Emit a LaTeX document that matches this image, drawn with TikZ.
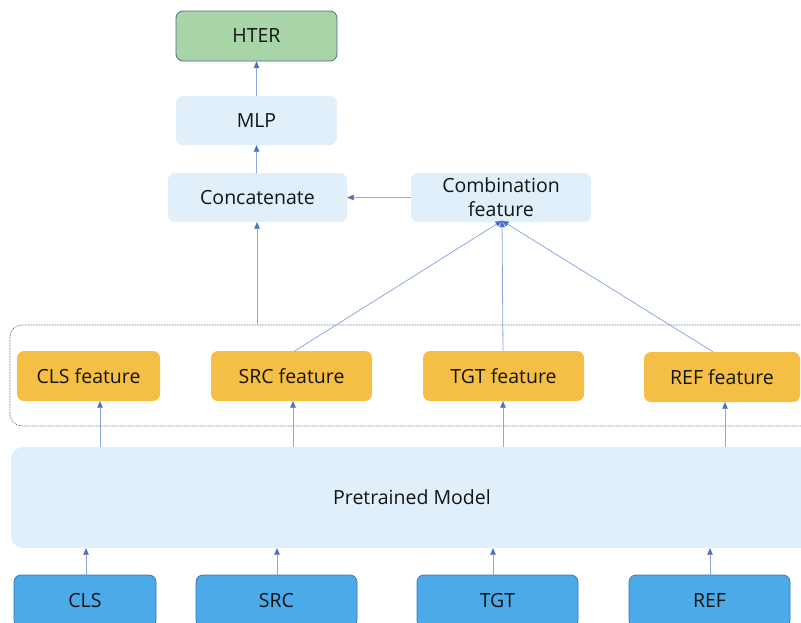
\documentclass[tikz,border=0pt]{standalone}
\usepackage{fontspec}
\setmainfont{Open Sans}
\usetikzlibrary{arrows.meta}

\definecolor{paleblue}{HTML}{E0EFF9}
\definecolor{featorange}{HTML}{F4BF44}
\definecolor{inblue}{HTML}{4DAAE8}
\definecolor{inborder}{HTML}{3579BB}
\definecolor{outgreen}{HTML}{A8D5A8}
\definecolor{outborder}{HTML}{4D6A8A}
\definecolor{linkblue}{HTML}{8CA8DE}
\definecolor{tipblue}{HTML}{4A70C4}
\definecolor{dotgray}{HTML}{5C6C8C}
\definecolor{txt}{HTML}{141414}

\begin{document}
\begin{tikzpicture}[x=1pt,y=-1pt,
  every node/.style={font=\fontsize{19.5}{24}\selectfont, text=txt, align=center, inner sep=0pt},
  box/.style={rounded corners=7pt, minimum width=#1},
  lightbox/.style={box=#1, fill=paleblue, minimum height=49pt},
  featbox/.style={box=#1, fill=featorange, minimum height=50pt},
  inbox/.style={box=#1, fill=inblue, draw=inborder, line width=0.8pt, minimum height=52pt},
  arr/.style={draw=linkblue, line width=0.8pt,
    -{Triangle[length=6.5pt,width=5.5pt,fill=tipblue,color=tipblue,line width=0.3pt]}}
]
\useasboundingbox (0,0) rectangle (801,622);

% output and head
\node[box=161pt, minimum height=50pt, fill=outgreen, draw=outborder, line width=0.8pt] (hter) at (256.5,36) {HTER};
\node[lightbox=161pt] (mlp) at (256.5,120.5) {MLP};
\node[lightbox=179pt] (concat) at (257.5,197.5) {Concatenate};
\node[lightbox=180pt] (comb) at (501,197.5) {Combination\\feature};

% group of extracted features
\draw[dotgray, line width=0.7pt, dash pattern=on 0.8pt off 0.8pt, rounded corners=12pt]
  (10,325) rectangle (830,426);
\coordinate (grouptop) at (257,325);

\node[featbox=143pt] (clsf) at (88.5,376) {CLS feature};
\node[featbox=161pt] (srcf) at (291.5,376) {SRC feature};
\node[featbox=161pt] (tgtf) at (503.5,376) {TGT feature};
\node[featbox=156pt] (reff) at (722,377) {REF feature};

% encoder
\node[box=802pt, fill=paleblue, minimum height=101pt, rounded corners=12pt] (pm) at (412,497.5) {Pretrained Model};

% inputs
\node[inbox=142pt] (cls) at (85,601) {CLS};
\node[inbox=161pt] (src) at (276.5,601) {SRC};
\node[inbox=161pt] (tgt) at (497.5,601) {TGT};
\node[inbox=161pt] (ref) at (709.5,601) {REF};

% inputs into the encoder
\draw[arr] ([xshift=1pt]cls.north) -- ([xshift=1pt]cls.north |- pm.south);
\draw[arr] ([xshift=0.5pt]src.north) -- ([xshift=0.5pt]src.north |- pm.south);
\draw[arr] ([xshift=-4.5pt]tgt.north) -- ([xshift=-4.5pt]tgt.north |- pm.south);
\draw[arr] ([xshift=0.5pt]ref.north) -- ([xshift=0.5pt]ref.north |- pm.south);

% encoder into the features
\draw[arr] ([xshift=11.5pt]clsf.south |- pm.north) -- ([xshift=11.5pt]clsf.south);
\draw[arr] ([xshift=1.5pt]srcf.south |- pm.north) -- ([xshift=1.5pt]srcf.south);
\draw[arr] ([xshift=-0.5pt]tgtf.south |- pm.north) -- ([xshift=-0.5pt]tgtf.south);
\draw[arr] ([xshift=3pt]reff.south |- pm.north) -- ([xshift=3pt]reff.south);

% features combined
\draw[arr] ([xshift=3.5pt]srcf.north) -- ([xshift=1pt,yshift=1.5pt]comb.south);
\draw[arr] ([xshift=-0.5pt]tgtf.north) -- ([xshift=1pt,yshift=1.5pt]comb.south);
\draw[arr] ([xshift=-9pt]reff.north) -- ([xshift=1pt,yshift=1.5pt]comb.south);

% head
\draw[arr] (grouptop) -- (grouptop |- concat.south);
\draw[arr] (comb.west) -- (concat.east);
\draw[arr] (mlp.south |- concat.north) -- (mlp.south);
\draw[arr] (mlp.north) -- (hter.south);
\end{tikzpicture}
\end{document}
